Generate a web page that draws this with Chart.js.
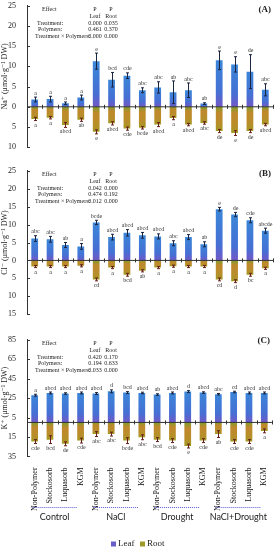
<!DOCTYPE html>
<html>
<head>
<meta charset="utf-8">
<script src="https://cdn.jsdelivr.net/npm/chart.js@4.4.1/dist/chart.umd.min.js"></script>
<style>
  html, body { margin: 0; padding: 0; background: #fff; }
  body { width: 277px; height: 550px; position: relative; overflow: hidden; }
  canvas { position: absolute; left: 0; }
</style>
</head>
<body>
<canvas id="chartA" width="277" height="157" style="top:-2px"></canvas>
<canvas id="chartB" width="277" height="159" style="top:163px"></canvas>
<canvas id="chartC" width="277" height="218" style="top:332px"></canvas>
<script>
// categories
const polymers = ['Non-Polymer', 'Stockosorb', 'Luquasorb', 'KGM'];
const groups = ['Control', 'NaCl', 'Drought', 'NaCl+Drought'];
const labels = [...polymers, ...polymers, ...polymers, ...polymers];

// (A) Na+
const naLeaf = [1.8, 1.9, 0.9, 2.3, 11.3, 6.7, 7.7, 4.1, 4.8, 3.6, 4.1, 0.8, 11.5, 10.5, 8.7, 4.2];
const naLeafErr = [0.6, 0.7, 0.3, 0.6, 2.0, 1.8, 0.7, 0.6, 1.4, 2.8, 1.8, 0.2, 2.3, 1.9, 4.2, 1.5];
const naLeafSig = ['a', 'a', 'a', 'a', 'e', 'bcd', 'cde', 'abc', 'abc', 'ab', 'abc', 'ab', 'e', 'e', 'de', 'abc'];
const naRoot = [-3.0, -2.7, -4.5, -3.2, -6.2, -4.1, -5.4, -5.2, -4.4, -2.8, -4.4, -4.0, -6.0, -6.5, -6.0, -4.4];
const naRootErr = [0.4, 0.3, 0.6, 0.4, 0.5, 0.4, 0.4, 0.3, 0.5, 0.4, 0.3, 0.3, 0.4, 0.6, 0.4, 0.3];
const naRootSig = ['a', 'a', 'abcd', 'ab', 'e', 'abcd', 'cde', 'bcde', 'abcd', 'a', 'abcd', 'abc', 'de', 'e', 'de', 'abcd'];
const naTicks = [-10, -5, 0, 5, 10, 15, 20, 25];
const naP = [['0.000', '0.035'], ['0.461', '0.370'], ['0.000', '0.000']];

// (B) Cl-
const clLeaf = [6.1, 5.9, 4.3, 3.9, 10.6, 6.5, 7.7, 7.0, 6.7, 4.8, 6.5, 4.5, 14.3, 12.8, 11.2, 8.3];
const clLeafErr = [0.8, 0.8, 0.7, 0.8, 0.6, 0.8, 0.9, 0.8, 0.7, 0.7, 0.7, 0.7, 0.5, 0.6, 0.7, 0.7];
const clLeafSig = ['abc', 'abc', 'ab', 'a', 'bcde', 'abcd', 'abcd', 'abcd', 'abcd', 'abc', 'abcd', 'ab', 'e', 'de', 'cde', 'abcde'];
const clRoot = [-1.7, -1.7, -1.7, -1.5, -5.3, -2.0, -4.0, -2.9, -2.0, -1.6, -1.7, -1.7, -5.3, -5.8, -4.0, -2.2];
const clRootErr = [0.3, 0.3, 0.3, 0.3, 0.4, 0.3, 0.4, 0.3, 0.3, 0.3, 0.3, 0.3, 0.4, 0.4, 0.4, 0.3];
const clRootSig = ['a', 'a', 'a', 'a', 'cd', 'a', 'bcd', 'ab', 'a', 'a', 'a', 'a', 'cd', 'd', 'bc', 'a'];
const clTicks = [-15, -10, -5, 0, 5, 10, 15, 20, 25];
const clP = [['0.042', '0.000'], ['0.474', '0.192'], ['0.012', '0.000']];

// (C) K+
const kLeaf = [28.0, 30.3, 29.7, 30.3, 29.7, 32.0, 30.7, 30.3, 28.7, 30.3, 31.7, 30.7, 29.0, 31.3, 30.3, 30.3];
const kLeafErr = [1.0, 1.0, 0.8, 1.0, 1.0, 1.5, 1.0, 0.8, 0.8, 1.0, 1.0, 0.8, 0.8, 0.8, 1.0, 1.0];
const kLeafSig = ['a', 'abcd', 'abcd', 'abcd', 'abcd', 'd', 'bcd', 'abcd', 'ab', 'abcd', 'd', 'abcd', 'abc', 'cd', 'abcd', 'abcd'];
const kRoot = [-19.7, -17.7, -22.0, -18.7, -12.0, -12.0, -18.7, -15.3, -17.7, -18.7, -24.3, -18.7, -12.0, -19.7, -19.7, -8.7];
const kRootErr = [2.0, 4.0, 2.0, 2.5, 2.5, 2.0, 3.0, 2.5, 2.0, 2.0, 2.0, 2.0, 3.5, 2.0, 2.0, 2.0];
const kRootSig = ['cde', 'bcd', 'de', 'cde', 'abc', 'abc', 'bcde', 'abc', 'bcd', 'cde', 'e', 'cde', 'ab', 'cde', 'cde', 'a'];
const kTicks = [-35, -15, 5, 25, 45, 65, 85];
const kP = [['0.420', '0.170'], ['0.194', '0.633'], ['0.033', '0.000']];

const SERIF = '"Liberation Serif", "DejaVu Serif", serif';

function leafFill(c) {
  const ys = c.chart.scales.y;
  if (c.type !== 'data' || !ys) return '#4a70d4';
  const y0 = ys.getPixelForValue(0), y1 = ys.getPixelForValue(c.raw);
  if (!isFinite(y0) || !isFinite(y1) || y0 === y1) return '#4a70d4';
  const g = c.chart.ctx.createLinearGradient(0, y1, 0, y0);
  g.addColorStop(0, '#3a86d8');
  g.addColorStop(0.7, '#466fd4');
  g.addColorStop(1, '#7258c6');
  return g;
}

function rootFill(c) {
  const ys = c.chart.scales.y;
  if (c.type !== 'data' || !ys) return '#a89a2a';
  const y0 = ys.getPixelForValue(0), y1 = ys.getPixelForValue(c.raw);
  if (!isFinite(y0) || !isFinite(y1) || y0 === y1) return '#a89a2a';
  const g = c.chart.ctx.createLinearGradient(0, y0, 0, y1);
  g.addColorStop(0, '#7f9e2e');
  g.addColorStop(0.25, '#c0882c');
  g.addColorStop(0.7, '#b88e2a');
  g.addColorStop(1, '#a29a22');
  return g;
}

// error bars, letters, zero line, p-value table and panel tag
const panelDecor = {
  id: 'panelDecor',
  afterDatasetsDraw(chart, args, o) {
    const { ctx, chartArea: a, scales: { y } } = chart;
    ctx.save();
    // zero line with boundary ticks
    const y0 = y.getPixelForValue(0);
    ctx.strokeStyle = '#333';
    ctx.lineWidth = 1;
    ctx.beginPath();
    ctx.moveTo(a.left, y0); ctx.lineTo(a.right, y0);
    const n = labels.length, w = (a.right - a.left) / n;
    for (let i = 1; i <= n; i++) {
      const x = Math.round(a.left + i * w) + 0.5;
      ctx.moveTo(x, y0 - 2); ctx.lineTo(x, y0 + 2);
    }
    ctx.stroke();
    // inward y ticks
    ctx.beginPath();
    y.ticks.forEach(t => {
      const py = Math.round(y.getPixelForValue(t.value)) + 0.5;
      ctx.moveTo(a.left, py); ctx.lineTo(a.left + 3, py);
    });
    ctx.stroke();

    ctx.font = '6px ' + SERIF;
    ctx.textAlign = 'center';
    [[0, o.leafErr, o.leafSig, '#1c2540'], [1, o.rootErr, o.rootSig, '#6a1e1e']].forEach(([di, errs, sigs, col]) => {
      const meta = chart.getDatasetMeta(di);
      const vals = chart.data.datasets[di].data;
      meta.data.forEach((bar, i) => {
        const v = vals[i], e = errs[i];
        const hi = y.getPixelForValue(v + e), lo = y.getPixelForValue(v - e);
        const x = Math.round(bar.x) + 0.5;
        ctx.strokeStyle = col;
        ctx.beginPath();
        ctx.moveTo(x, hi); ctx.lineTo(x, lo);
        ctx.moveTo(x - 1.5, hi); ctx.lineTo(x + 1.5, hi);
        ctx.moveTo(x - 1.5, lo); ctx.lineTo(x + 1.5, lo);
        ctx.stroke();
        ctx.fillStyle = '#333';
        if (di === 0) {
          ctx.textBaseline = 'bottom';
          ctx.fillText(sigs[i], x, hi - 1);
        } else {
          ctx.textBaseline = 'top';
          ctx.fillText(sigs[i], x, lo + 1.5);
        }
      });
    });

    // p-value table
    ctx.fillStyle = '#222';
    ctx.font = '6px ' + SERIF;
    ctx.textBaseline = 'middle';
    const t = a.top;
    ctx.textAlign = 'left';
    ctx.fillText('Effect', a.left + 15, t + 4);
    ctx.fillText('Treatment:', a.left + 10, t + 17.5);
    ctx.fillText('Polymers:', a.left + 11, t + 24);
    ctx.fillText('Treatment \u00d7 Polymers:', a.left + 8, t + 30.5);
    ctx.textAlign = 'center';
    const c1 = a.left + 68, c2 = a.left + 84;
    ctx.fillText('P', c1, t + 4); ctx.fillText('P', c2, t + 4);
    ctx.fillText('Leaf', c1, t + 10.5); ctx.fillText('Root', c2, t + 10.5);
    o.pvals.forEach((row, r) => {
      ctx.fillText(row[0], c1, t + 17.5 + r * 6.5);
      ctx.fillText(row[1], c2, t + 17.5 + r * 6.5);
    });
    // panel tag
    ctx.font = 'bold 9px ' + SERIF;
    ctx.textAlign = 'right';
    ctx.fillText(o.tag, a.right - 2, t + o.tagDy);
    ctx.restore();
  }
};

// group lines, group names and legend below panel C
const groupDecor = {
  id: 'groupDecor',
  afterDraw(chart, args, o) {
    if (!o.on) return;
    const { ctx, scales: { x } } = chart;
    ctx.save();
    const ly = o.lineY;
    groups.forEach((g, gi) => {
      const x1 = x.getPixelForValue(gi * 4) - 3;
      const x2 = x.getPixelForValue(gi * 4 + 3) - 3;
      ctx.strokeStyle = '#5a5ad8';
      ctx.setLineDash([1, 1]);
      ctx.lineWidth = 1;
      ctx.beginPath();
      ctx.moveTo(x1, ly + 0.5); ctx.lineTo(x2, ly + 0.5);
      ctx.stroke();
      ctx.setLineDash([]);
      ctx.fillStyle = '#222';
      ctx.font = '9px Lato, "Open Sans", sans-serif';
      ctx.textAlign = 'center';
      ctx.textBaseline = 'middle';
      ctx.fillText(g, (x1 + x2) / 2, ly + 10.5);
    });
    // legend
    const legY = o.legendY;
    ctx.font = '9px ' + SERIF;
    ctx.textAlign = 'left';
    ctx.textBaseline = 'middle';
    ctx.fillStyle = '#6a5fc8';
    ctx.fillRect(111, legY - 2.5, 5, 5);
    ctx.fillStyle = '#222';
    ctx.fillText('Leaf', 118, legY);
    ctx.fillStyle = '#a09a2a';
    ctx.fillRect(140, legY - 2.5, 5, 5);
    ctx.fillStyle = '#222';
    ctx.fillText('Root', 147, legY);
    ctx.restore();
  }
};

function makePanel(id, leaf, root, ticks, title, extra) {
  const showX = !!extra.showX;
  return new Chart(document.getElementById(id), {
    type: 'bar',
    data: {
      labels: labels,
      datasets: [
        { label: 'Leaf', data: leaf, backgroundColor: leafFill, grouped: false, barPercentage: 0.44, categoryPercentage: 1 },
        { label: 'Root', data: root, backgroundColor: rootFill, grouped: false, barPercentage: 0.44, categoryPercentage: 1 }
      ]
    },
    options: {
      responsive: false,
      animation: false,
      layout: { padding: { left: 0, right: 4, top: 0, bottom: extra.padBottom || 0 } },
      plugins: {
        legend: { display: false },
        tooltip: { enabled: false },
        panelDecor: {
          leafErr: extra.leafErr, rootErr: extra.rootErr,
          leafSig: extra.leafSig, rootSig: extra.rootSig,
          pvals: extra.pvals, tag: extra.tag, tagDy: extra.tagDy
        },
        groupDecor: { on: showX, lineY: extra.lineY, legendY: extra.legendY }
      },
      scales: {
        x: {
          display: showX,
          grid: { display: false },
          border: { display: false },
          ticks: {
            autoSkip: false, maxRotation: 90, minRotation: 90, padding: 3,
            color: '#111', font: { family: SERIF, size: 8 }
          }
        },
        y: {
          min: ticks[0], max: ticks[ticks.length - 1],
          afterBuildTicks: s => { s.ticks = ticks.map(v => ({ value: v })); },
          afterFit: s => { s.width = 27; },
          grid: { display: false },
          border: { display: true, color: '#333', width: 1 },
          ticks: {
            padding: 3, color: '#222', font: { family: SERIF, size: 8 },
            callback: v => String(Math.abs(v))
          },
          title: {
            display: true, text: title, color: '#222', padding: { top: 0, bottom: 0 },
            font: { family: SERIF, size: 8 }
          }
        }
      }
    },
    plugins: [panelDecor, groupDecor]
  });
}

makePanel('chartA', naLeaf, naRoot, naTicks, 'Na\u207a (\u03bcmol\u00b7g\u207b\u00b9 DW)', {
  leafErr: naLeafErr, rootErr: naRootErr, leafSig: naLeafSig, rootSig: naRootSig,
  pvals: naP, tag: '(A)', tagDy: 4
});
makePanel('chartB', clLeaf, clRoot, clTicks, 'Cl\u207b (\u03bcmol\u00b7g\u207b\u00b9 DW)', {
  leafErr: clLeafErr, rootErr: clRootErr, leafSig: clLeafSig, rootSig: clRootSig,
  pvals: clP, tag: '(B)', tagDy: 3
});
makePanel('chartC', kLeaf, kRoot, kTicks, 'K\u207a (\u03bcmol\u00b7g\u207b\u00b9 DW)', {
  leafErr: kLeafErr, rootErr: kRootErr, leafSig: kLeafSig, rootSig: kRootSig,
  pvals: kP, tag: '(C)', tagDy: 1,
  showX: true, padBottom: 36, lineY: 175, legendY: 212
});
</script>
</body>
</html>
